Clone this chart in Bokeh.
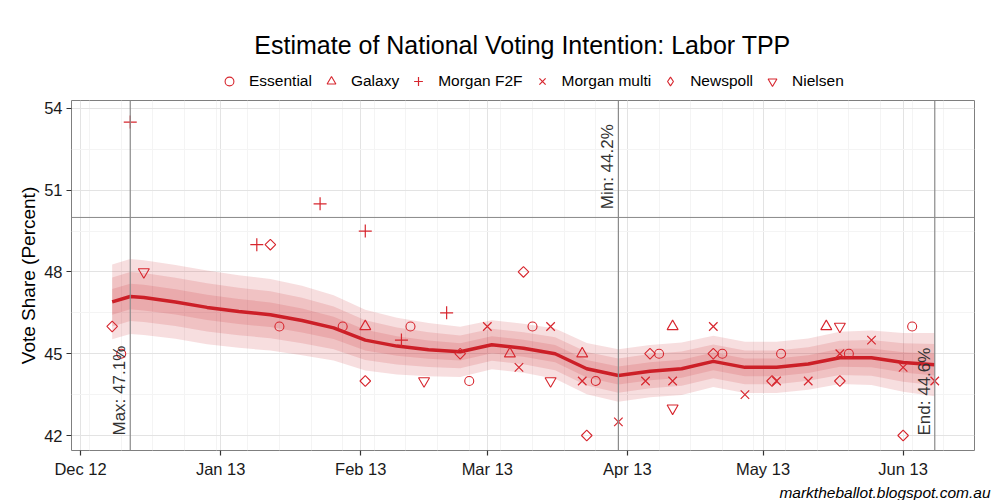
import pandas as pd
from bokeh.plotting import figure
from bokeh.layouts import column
from bokeh.models import (FixedTicker, DatetimeTickFormatter, Span, Label,
                          Legend, LegendItem, Title)
from bokeh.embed import file_html
from bokeh.resources import INLINE

# ---------------- data ----------------
trend_dates = ["2012-12-08", "2012-12-12", "2012-12-15", "2012-12-22", "2012-12-29",
               "2013-01-05", "2013-01-12", "2013-01-19", "2013-01-26", "2013-02-02",
               "2013-02-09", "2013-02-16", "2013-02-23", "2013-03-02", "2013-03-09",
               "2013-03-16", "2013-03-23", "2013-03-30", "2013-04-06", "2013-04-13",
               "2013-04-20", "2013-04-27", "2013-05-04", "2013-05-11", "2013-05-18",
               "2013-05-25", "2013-06-01", "2013-06-08"]
trend_values = [46.9, 47.1, 47.06, 46.9, 46.7, 46.55, 46.43, 46.22, 45.95, 45.5,
                45.28, 45.15, 45.07, 45.33, 45.2, 45.0, 44.45, 44.2, 44.36, 44.45,
                44.72, 44.5, 44.5, 44.62, 44.85, 44.85, 44.68, 44.6]
trend_sd = [0.70, 0.70, 0.70, 0.69, 0.69, 0.68, 0.67, 0.65, 0.61, 0.57,
            0.53, 0.50, 0.47, 0.46, 0.46, 0.47, 0.48, 0.49, 0.49, 0.49,
            0.48, 0.48, 0.48, 0.48, 0.49, 0.51, 0.55, 0.59]
band_z = [1.96, 1.282, 0.674]   # 95%, 80%, 50% intervals

essential_dates = ["2012-12-10", "2013-01-14", "2013-01-28", "2013-02-12", "2013-02-25",
                   "2013-03-11", "2013-03-25", "2013-04-08", "2013-04-22", "2013-05-05",
                   "2013-05-20", "2013-06-03"]
essential_values = [45, 46, 46, 46, 44, 46, 44, 45, 45, 45, 45, 46]

galaxy_dates = ["2013-02-02", "2013-03-06", "2013-03-22", "2013-04-11", "2013-05-15"]
galaxy_values = [46, 45, 45, 46, 46]

morgan_f2f_dates = ["2012-12-12", "2013-01-09", "2013-01-23", "2013-02-02", "2013-02-10",
                    "2013-02-20"]
morgan_f2f_values = [53.5, 49, 50.5, 49.5, 45.5, 46.5]

morgan_multi_dates = ["2013-03-01", "2013-03-08", "2013-03-15", "2013-03-22", "2013-03-30",
                      "2013-04-05", "2013-04-11", "2013-04-20", "2013-04-27", "2013-05-04",
                      "2013-05-11", "2013-05-18", "2013-05-25", "2013-06-01", "2013-06-08"]
morgan_multi_values = [46, 44.5, 46, 44, 42.5, 44, 44, 46, 43.5, 44, 44, 45, 45.5, 44.5, 44]

newspoll_dates = ["2012-12-08", "2013-01-12", "2013-02-02", "2013-02-23", "2013-03-09",
                  "2013-03-23", "2013-04-06", "2013-04-20", "2013-05-03", "2013-05-18",
                  "2013-06-01"]
newspoll_values = [46, 49, 44, 45, 48, 42, 45, 45, 44, 44, 42]

nielsen_dates = ["2012-12-15", "2013-02-15", "2013-03-15", "2013-04-11", "2013-05-18"]
nielsen_values = [48, 44, 44, 43, 46]

y_ticks = [42, 45, 48, 51, 54]
month_ticks = ["2012-12-01", "2013-01-01", "2013-02-01", "2013-03-01", "2013-04-01",
               "2013-05-01", "2013-06-01"]
reference_level = 50

title_text = "Estimate of National Voting Intention: Labor TPP"
footer_text = "marktheballot.blogspot.com.au"

# ---------------- helpers ----------------
def ms(s):
    return pd.Timestamp(s).timestamp() * 1000.0

def dt(lst):
    return pd.to_datetime(lst)

RED = "#d7262e"
LINE_RED = "#cc1f27"
FONT = "Liberation Sans"
W = 1000
BL, BR = 71, 26          # left / right borders -> frame 71..974
FW = W - BL - BR         # frame width

marker_styles = [
    ("Essential", dict(marker="circle", size=9, line_width=1.1)),
    ("Galaxy", dict(marker="triangle", size=11, line_width=1.1)),
    ("Morgan F2F", dict(marker="cross", size=13, line_width=1.2)),
    ("Morgan multi", dict(marker="x", size=12, line_width=1.2)),
    ("Newspoll", dict(marker="square", size=7.5, angle=0.785398, line_width=1.1)),
    ("Nielsen", dict(marker="inverted_triangle", size=11, line_width=1.1)),
]
legend_markers = ["circle", "triangle", "cross", "x", "diamond", "inverted_triangle"]
series = [(essential_dates, essential_values), (galaxy_dates, galaxy_values),
          (morgan_f2f_dates, morgan_f2f_values), (morgan_multi_dates, morgan_multi_values),
          (newspoll_dates, newspoll_values), (nielsen_dates, nielsen_values)]

def strip(h):
    f = figure(width=W, height=h, x_range=(0, FW), y_range=(0, h),
               output_backend="svg", toolbar_location=None, title=None,
               x_axis_location=None, y_axis_location=None,
               min_border_left=BL, min_border_right=BR, min_border_top=0,
               min_border_bottom=0)
    f.grid.visible = False
    f.outline_line_color = None
    f.background_fill_color = "white"
    f.border_fill_color = "white"
    return f

# ---------------- header strip: title + legend ----------------
TOP_H = 92
top = strip(TOP_H)
top.add_layout(Label(x=522 - BL, y=TOP_H - 44, text=title_text, text_align="center",
                     text_baseline="middle", text_font=FONT, text_font_size="25px",
                     text_color="#000000"))
items = []
for (name, st), mk, (ds, vs) in zip(marker_styles, legend_markers, series):
    # same data as the main plot; it lies far outside this strip's range, only the legend glyph shows
    r = top.scatter(dt(ds), vs, marker=mk, size=9, fill_color=None, line_color=RED,
                    line_width=st["line_width"])
    items.append(LegendItem(label=name, renderers=[r]))
legend = Legend(items=items, orientation="horizontal", location=(147, 0),
                label_text_font=FONT, label_text_font_size="15.5px",
                label_text_color="#000000", glyph_width=22, glyph_height=22,
                label_standoff=9, spacing=8, padding=0, margin=0,
                border_line_color=None, background_fill_alpha=0)
top.add_layout(legend, "center")

# ---------------- main plot ----------------
MAIN_H = 388
p = figure(width=W, height=MAIN_H, x_axis_type="datetime",
           x_range=(ms("2012-11-29"), ms("2013-06-16 19:00")),
           y_range=(41.45, 54.29), title=None,
           output_backend="svg", toolbar_location=None,
           min_border_left=BL, min_border_right=BR, min_border_top=8,
           min_border_bottom=29)

p.background_fill_color = "white"
p.border_fill_color = "white"
p.outline_line_color = "#7f7f7f"
p.outline_line_width = 1

mondays = [d.timestamp() * 1000.0 for d in pd.date_range("2012-11-26", "2013-06-17", freq="7D")]
p.xaxis.ticker = FixedTicker(ticks=[ms(t) for t in month_ticks], minor_ticks=mondays)
fmt = "%b %y"
p.xaxis.formatter = DatetimeTickFormatter(milliseconds=fmt, seconds=fmt, minsec=fmt,
                                          minutes=fmt, hourmin=fmt, hours=fmt, days=fmt,
                                          months=fmt, years=fmt)
p.yaxis.ticker = FixedTicker(ticks=y_ticks, minor_ticks=[40.5, 43.5, 46.5, 49.5, 52.5, 55.5])

for ax in (p.xaxis, p.yaxis):
    ax.axis_line_color = None
    ax.major_tick_line_color = "#333333"
    ax.major_tick_line_width = 1.2
    ax.major_tick_out = 5
    ax.major_tick_in = 0
    ax.minor_tick_line_color = None
    ax.major_label_text_font = FONT
    ax.major_label_text_font_size = "16.5px"
    ax.major_label_text_color = "#1a1a1a"
    ax.major_label_standoff = 4

p.yaxis.axis_label = "Vote Share (Percent)"
p.yaxis.axis_label_text_font = FONT
p.yaxis.axis_label_text_font_size = "19px"
p.yaxis.axis_label_text_font_style = "normal"
p.yaxis.axis_label_text_color = "#000000"
p.yaxis.axis_label_standoff = 2

for g in (p.xgrid, p.ygrid):
    g.grid_line_color = "#e3e3e3"
    g.grid_line_width = 1
    g.minor_grid_line_color = "#f4f4f4"
    g.minor_grid_line_width = 1

td = dt(trend_dates)
for z in band_z:
    lo = [v - z * s for v, s in zip(trend_values, trend_sd)]
    hi = [v + z * s for v, s in zip(trend_values, trend_sd)]
    p.varea(x=td, y1=lo, y2=hi, fill_color=LINE_RED, fill_alpha=0.15)

p.add_layout(Span(location=reference_level, dimension="width",
                  line_color="#888888", line_width=1))
imax = trend_values.index(max(trend_values))
imin = trend_values.index(min(trend_values))
iend = len(trend_values) - 1
for i in (imax, imin, iend):
    p.add_layout(Span(location=ms(trend_dates[i]), dimension="height",
                      line_color="#8a8a8a", line_width=1.2))

p.line(td, trend_values, line_color=LINE_RED, line_width=3.5)

for (name, st), (ds, vs) in zip(marker_styles, series):
    p.scatter(dt(ds), vs, fill_color=None, line_color=RED, **st)

ann = [(imax, "Max", 42.0), (imin, "Min", 50.3), (iend, "End", 42.0)]
for i, name, yy in ann:
    p.add_layout(Label(x=ms(trend_dates[i]), y=yy, text=f"{name}: {trend_values[i]:.1f}%",
                       angle=90, angle_units="deg", text_align="left",
                       text_baseline="bottom", x_offset=-1, text_font=FONT,
                       text_font_size="17px", text_color="#333333"))

# ---------------- footer strip ----------------
BOT_H = 20
bot = strip(BOT_H)
bot.add_layout(Title(text=footer_text, align="right", offset=-16, standoff=0,
                     text_font=FONT, text_font_size="15.5px", text_font_style="italic",
                     text_color="#000000"), "below")

layout = column(top, p, bot, spacing=0)
open("out.html", "w").write(file_html(layout, INLINE))
